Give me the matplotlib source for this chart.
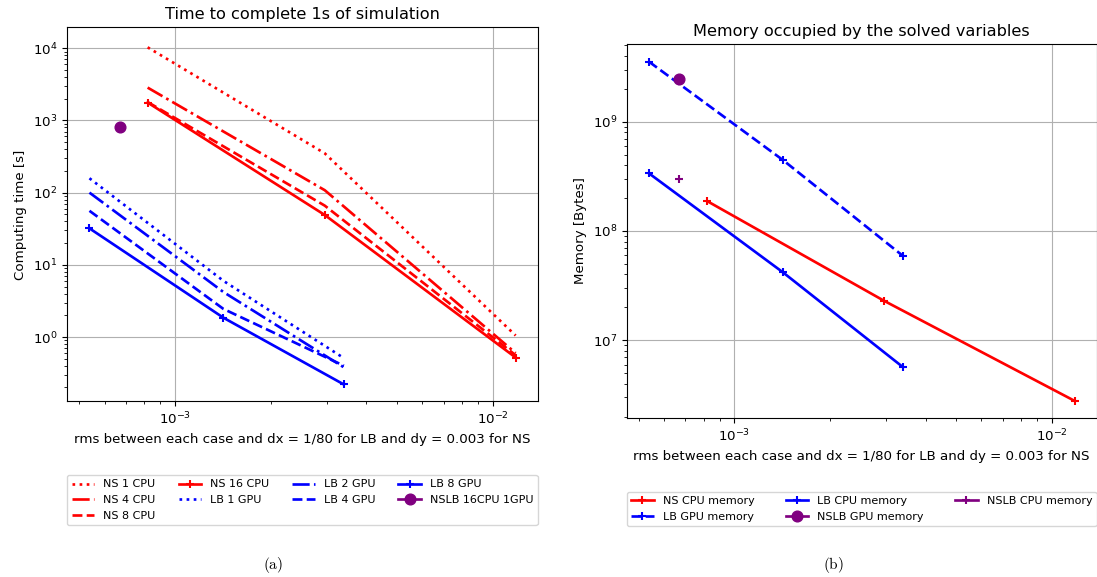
import matplotlib
matplotlib.use("Agg")
import matplotlib.pyplot as plt

# font sizes of the original are matplotlib defaults, slightly scaled down
plt.rcParams['font.size'] = 9.67

# ---------------- data ----------------
# x: rms between each case and the reference solution
ns_rms = [8.2e-4, 2.96e-3, 1.18e-2]
lb_rms = [5.38e-4, 1.42e-3, 3.40e-3]
nslb_rms = [6.7e-4]

# computing time [s] for 1s of simulation
ns_1cpu = [10300, 350, 1.05]
ns_4cpu = [2850, 108, 0.60]
ns_8cpu = [1800, 66, 0.56]
ns_16cpu = [1770, 49, 0.52]
lb_1gpu = [158, 6.0, 0.51]
lb_2gpu = [100, 4.2, 0.38]
lb_4gpu = [56, 2.45, 0.40]
lb_8gpu = [32, 1.85, 0.22]
nslb_time = [800]

# memory [Bytes]
ns_cpu_mem = [1.88e8, 2.3e7, 2.79e6]
lb_cpu_mem = [3.37e8, 4.2e7, 5.67e6]
lb_gpu_mem = [3.54e9, 4.47e8, 5.9e7]
nslb_gpu_mem = [2.47e9]
nslb_cpu_mem = [2.97e8]

xlabel = 'rms between each case and dx = 1/80 for LB and dy = 0.003 for NS'

fig = plt.figure(figsize=(10.97, 5.77), dpi=100)
ax1 = fig.add_axes([0.0613, 0.3042, 0.4288, 0.6482])
ax2 = fig.add_axes([0.5713, 0.2761, 0.4284, 0.6471])

lw = 1.93
ms = 6
mew = 1.5

#################### (a) computing time ####################
ax1.loglog(ns_rms, ns_1cpu, 'r:', lw=lw, label='NS 1 CPU')
ax1.loglog(ns_rms, ns_4cpu, 'r-.', lw=lw, label='NS 4 CPU')
ax1.loglog(ns_rms, ns_8cpu, 'r--', lw=lw, label='NS 8 CPU')
ax1.loglog(ns_rms, ns_16cpu, 'r-+', lw=lw, ms=ms, mew=mew, label='NS 16 CPU')
ax1.loglog(lb_rms, lb_1gpu, 'b:', lw=lw, label='LB 1 GPU')
ax1.loglog(lb_rms, lb_2gpu, 'b-.', lw=lw, label='LB 2 GPU')
ax1.loglog(lb_rms, lb_4gpu, 'b--', lw=lw, label='LB 4 GPU')
ax1.loglog(lb_rms, lb_8gpu, 'b-+', lw=lw, ms=ms, mew=mew, label='LB 8 GPU')
ax1.loglog(nslb_rms, nslb_time, '-o', color='purple', lw=lw, ms=7.7, label='NSLB 16CPU 1GPU')

ax1.set_xlim(4.58e-4, 1.384e-2)
ax1.set_ylim(0.128, 1.94e4)
ax1.grid(True)
ax1.set_title('Time to complete 1s of simulation')
ax1.set_xlabel(xlabel)
ax1.set_ylabel('Computing time [s]')
ax1.legend(loc='upper left', bbox_to_anchor=(0, -0.1965, 1, 0), mode='expand',
           ncol=4, fontsize='small', borderaxespad=0, numpoints=1)

#################### (b) memory ####################
ax2.loglog(ns_rms, ns_cpu_mem, 'r-+', lw=lw, ms=ms, mew=mew, label='NS CPU memory')
ax2.loglog(lb_rms, lb_gpu_mem, 'b--+', lw=lw, ms=ms, mew=mew, label='LB GPU memory')
ax2.loglog(lb_rms, lb_cpu_mem, 'b-+', lw=lw, ms=ms, mew=mew, label='LB CPU memory')
ax2.loglog(nslb_rms, nslb_gpu_mem, '-o', color='purple', lw=lw, ms=7.7, label='NSLB GPU memory')
ax2.loglog(nslb_rms, nslb_cpu_mem, '-+', color='purple', lw=lw, ms=ms, mew=mew, label='NSLB CPU memory')

ax2.set_xlim(4.58e-4, 1.384e-2)
ax2.set_ylim(1.96e6, 5.1e9)
ax2.grid(True)
ax2.set_title('Memory occupied by the solved variables')
ax2.set_xlabel(xlabel)
ax2.set_ylabel('Memory [Bytes]')
ax2.legend(loc='upper left', bbox_to_anchor=(0, -0.198, 1, 0), mode='expand',
           ncol=3, fontsize='small', borderaxespad=0, numpoints=1)

# sub-figure captions
fig.text(273 / 1097, 1 - 565 / 577, r'$\mathrm{(a)}$', ha='center', va='center',
         fontsize=11, math_fontfamily='cm')
fig.text(833 / 1097, 1 - 565 / 577, r'$\mathrm{(b)}$', ha='center', va='center',
         fontsize=11, math_fontfamily='cm')

fig.savefig('out.png', dpi=100)
